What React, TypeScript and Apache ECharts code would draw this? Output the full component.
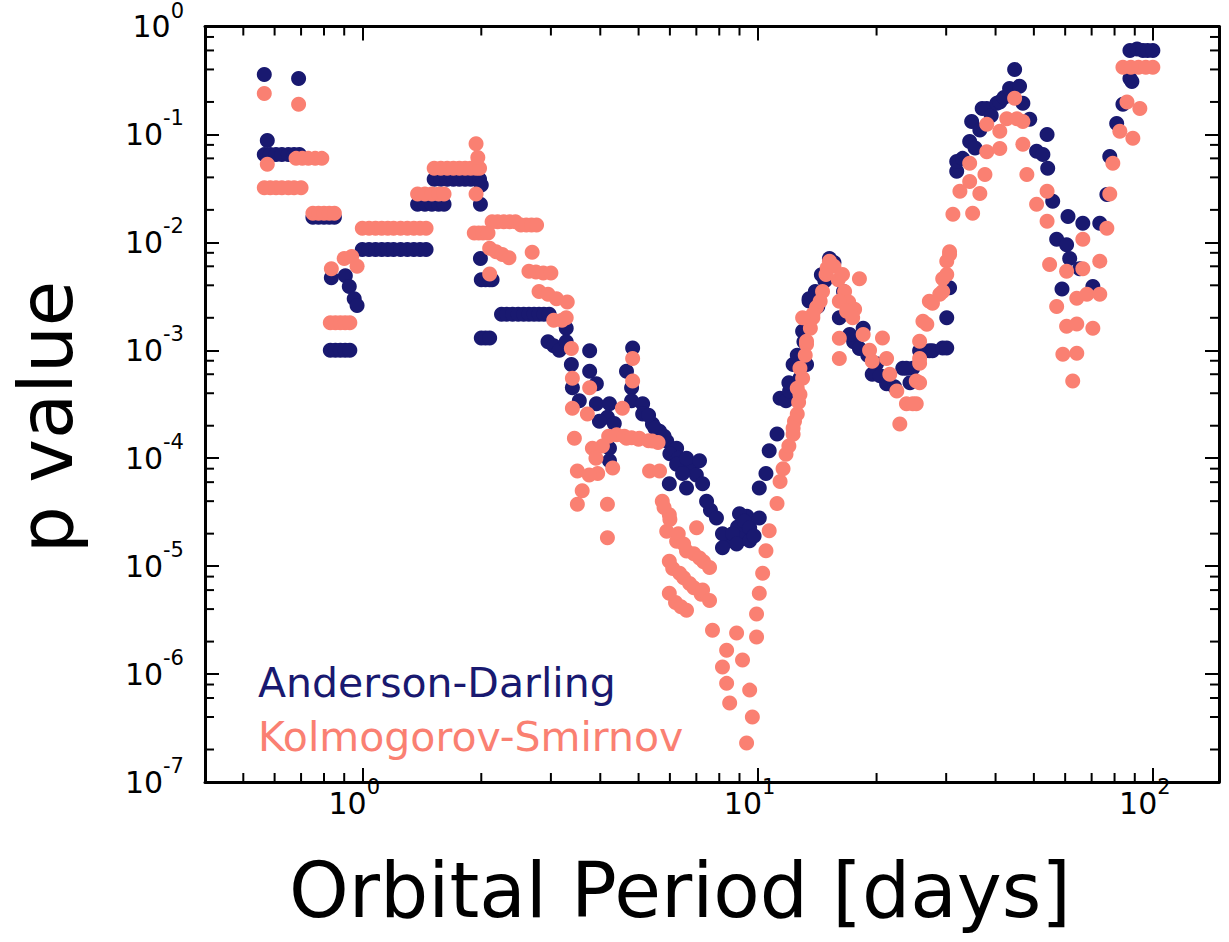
import { useEffect, useRef } from "react";
import * as echarts from "echarts";

const NAVY = "#191970";
const SALMON = "#fa8072";
const FONT = "DejaVu Sans";

// Axis extents: orbital period (days) and p value
const periodRange: [number, number] = [0.4, 147];
const pRange: [number, number] = [1e-7, 1];

// Minor tick mantissas per decade
const xMinorMantissas = [2, 3, 4, 5, 6, 7, 8, 9];
const xMinorDecades = [0.1, 1, 10];
const yMinorMantissas = [2, 4, 6, 8];
const yMinorDecades = [1e-7, 1e-6, 1e-5, 1e-4, 1e-3, 1e-2, 1e-1];

const seriesNames = ["Anderson-Darling", "Kolmogorov-Smirnov"];

// [orbital period in days, p value]
const andersonDarling: [number, number][] = [
  [0.565, 0.36], [0.69, 0.33], [0.575, 0.088],
  [0.565, 0.065], [0.585, 0.065], [0.605, 0.065], [0.626, 0.065], [0.65, 0.065], [0.672, 0.065], [0.693, 0.065],
  [0.75, 0.0171], [0.775, 0.0171], [0.8, 0.0171], [0.825, 0.0171], [0.85, 0.0171],
  [0.835, 0.0047], [0.906, 0.0049], [0.927, 0.0039], [0.954, 0.003], [0.97, 0.0026],
  [0.83, 0.001], [0.855, 0.001], [0.88, 0.001], [0.905, 0.001], [0.93, 0.001],
  [1.0, 0.0086], [1.04, 0.0086], [1.08, 0.0086], [1.12, 0.0086], [1.16, 0.0086], [1.2, 0.0086],
  [1.25, 0.0086], [1.3, 0.0086], [1.35, 0.0086], [1.4, 0.0086], [1.45, 0.0086],
  [1.38, 0.0225], [1.44, 0.0225], [1.5, 0.0225], [1.56, 0.0225], [1.61, 0.0225],
  [1.52, 0.0384], [1.58, 0.0384], [1.64, 0.0384], [1.7, 0.0384], [1.76, 0.0384], [1.82, 0.0384],
  [1.88, 0.0384], [1.94, 0.0384], [1.98, 0.0384],
  [2.0, 0.034], [1.99, 0.0225], [1.99, 0.0071],
  [2.0, 0.0045], [2.05, 0.0045], [2.1, 0.0045], [2.13, 0.0045],
  [2.0, 0.0013], [2.05, 0.0013], [2.1, 0.0013],
  [2.25, 0.00216], [2.32, 0.00216], [2.4, 0.00216], [2.48, 0.00216], [2.56, 0.00216],
  [2.64, 0.00216], [2.72, 0.00216], [2.8, 0.00216], [2.88, 0.00216], [2.97, 0.00216],
  [2.95, 0.0012], [3.05, 0.0011], [3.15, 0.001],
  [3.28, 0.0016], [3.28, 0.0012], [3.38, 0.00074], [3.4, 0.00045], [3.54, 0.00034],
  [3.76, 0.00099], [3.76, 0.00064], [3.91, 0.00049], [3.91, 0.00032], [4.22, 0.00032],
  [4.17, 0.00024], [4.34, 0.00021], [4.22, 0.000124], [4.22, 0.0000946], [3.98, 0.00022],
  [4.83, 0.00105], [4.66, 0.00064], [4.8, 0.00045], [4.8, 0.00034], [5.12, 0.00032],
  [5.12, 0.000257], [5.42, 0.000207], [5.65, 0.000178], [5.89, 0.000144], [6.24, 0.000124],
  [5.3, 0.00025], [5.5, 0.00019], [5.8, 0.00016], [6.0, 0.00011], [6.3, 0.0001],
  [6.5, 0.000085], [6.8, 0.00008], [7.0, 0.00007], [7.6, 0.000033], [8.4, 0.000017],
  [8.9, 0.000023], [9.2, 0.000018], [9.4, 0.000029],
  [6.24, 0.000088], [6.61, 0.0001], [7.13, 0.0000946], [6.46, 0.000072], [5.98, 0.000058],
  [6.61, 0.000053], [7.26, 0.000058], [7.43, 0.00004], [7.87, 0.000028], [8.15, 0.00002],
  [8.15, 0.0000148], [8.64, 0.00002], [8.85, 0.000016], [9.0, 0.0000306], [9.26, 0.000026],
  [9.55, 0.0000227], [9.55, 0.0000172], [9.8, 0.000019], [10.1, 0.000028], [10.1, 0.000053],
  [10.5, 0.000072], [10.7, 0.000117], [11.2, 0.000168], [11.4, 0.00036], [11.8, 0.00034],
  [12.05, 0.00042], [12.3, 0.00074], [12.8, 0.00055], [13.3, 0.00074], [13.0, 0.0015],
  [12.0, 0.0005], [12.6, 0.0009], [13.1, 0.0012], [14.0, 0.0035], [14.5, 0.005],
  [15.6, 0.0065], [16.5, 0.0035], [17.5, 0.0012], [19.0, 0.0009], [20.0, 0.00075],
  [13.5, 0.00286], [13.5, 0.003], [14.2, 0.00255], [14.8, 0.0044], [15.2, 0.0071],
  [16.1, 0.002], [17.1, 0.0014], [18.1, 0.00104], [18.5, 0.0016], [19.5, 0.0006],
  [20.4, 0.00058], [21.2, 0.00049], [22.2, 0.00046], [23.3, 0.00068], [24.3, 0.0005],
  [24.7, 0.00068], [23.8, 0.00068], [25.7, 0.00099], [27.2, 0.00099], [27.7, 0.00099],
  [29.4, 0.00105], [30.1, 0.00105], [30.1, 0.002], [30.6, 0.0038],
  [31.9, 0.0455], [31.9, 0.056], [33.0, 0.06], [34.4, 0.086], [35.5, 0.075], [34.8, 0.132],
  [36.5, 0.11], [37.0, 0.174], [38.0, 0.174], [39.0, 0.15], [40.3, 0.194], [41.0, 0.2],
  [42.0, 0.22], [43.4, 0.267], [46.0, 0.28], [44.7, 0.4], [46.9, 0.194], [48.8, 0.138],
  [54.0, 0.1], [50.8, 0.07], [52.7, 0.065], [54.2, 0.0485], [55.8, 0.024], [61.0, 0.0174],
  [66.5, 0.015], [57.1, 0.0107], [60.5, 0.0095], [61.6, 0.0071], [65.3, 0.0057],
  [70.5, 0.0039], [58.9, 0.0037], [73.4, 0.015], [76.5, 0.0278], [77.8, 0.0625],
  [81.0, 0.126], [84.0, 0.19], [87.5, 0.33], [88.5, 0.31],
  [87.5, 0.6], [91.2, 0.62], [94.4, 0.6], [97.0, 0.6], [100.0, 0.6],
];

const kolmogorovSmirnov: [number, number][] = [
  [0.565, 0.24], [0.69, 0.19], [0.575, 0.053],
  [0.565, 0.032], [0.585, 0.032], [0.605, 0.032], [0.626, 0.032], [0.65, 0.032], [0.672, 0.032], [0.7, 0.032],
  [0.68, 0.06], [0.705, 0.06], [0.73, 0.06], [0.76, 0.06], [0.79, 0.06],
  [0.75, 0.0186], [0.775, 0.0186], [0.8, 0.0186], [0.825, 0.0186], [0.85, 0.0186],
  [0.835, 0.0057], [0.9, 0.0071], [0.94, 0.0074], [0.97, 0.006],
  [0.83, 0.0018], [0.855, 0.0018], [0.88, 0.0018], [0.905, 0.0018], [0.93, 0.0018],
  [1.0, 0.0135], [1.04, 0.0135], [1.08, 0.0135], [1.12, 0.0135], [1.16, 0.0135], [1.2, 0.0135],
  [1.25, 0.0135], [1.3, 0.0135], [1.35, 0.0135], [1.4, 0.0135], [1.45, 0.0135],
  [1.38, 0.028], [1.44, 0.028], [1.5, 0.028], [1.56, 0.028], [1.61, 0.028],
  [1.52, 0.0486], [1.58, 0.0486], [1.64, 0.0486], [1.7, 0.0486], [1.76, 0.0486], [1.82, 0.0486],
  [1.88, 0.0486], [1.94, 0.0486], [1.98, 0.0486],
  [1.94, 0.082], [1.96, 0.061], [1.94, 0.028],
  [1.92, 0.0122], [1.97, 0.0122], [2.02, 0.0122], [2.08, 0.0122],
  [2.1, 0.0051],
  [2.13, 0.0155], [2.2, 0.0155], [2.28, 0.0155], [2.36, 0.0155], [2.44, 0.0155],
  [2.52, 0.0145], [2.6, 0.0145], [2.68, 0.0145], [2.76, 0.0145],
  [2.1, 0.0088], [2.18, 0.0082], [2.26, 0.0077], [2.35, 0.0072], [2.69, 0.0081],
  [2.64, 0.0054], [2.75, 0.0053], [2.87, 0.0052], [3.0, 0.0052],
  [2.8, 0.0035], [2.95, 0.0033], [3.1, 0.003], [3.3, 0.0028],
  [3.05, 0.0019], [3.2, 0.0019],
  [3.28, 0.002], [3.38, 0.00104], [3.4, 0.00055], [3.4, 0.00029], [3.44, 0.000153],
  [3.5, 0.000076], [3.5, 0.0000375], [3.76, 0.00045], [3.71, 0.000257], [3.82, 0.000124],
  [3.94, 0.000072], [4.17, 0.0000375], [4.17, 0.0000183], [4.3, 0.000081], [4.55, 0.00029],
  [4.83, 0.00084], [4.83, 0.00052], [4.66, 0.000153], [5.02, 0.000153], [5.42, 0.000144],
  [5.33, 0.000076], [5.65, 0.000076],
  [4.2, 0.00016], [4.4, 0.000165], [4.6, 0.00016], [4.8, 0.000155], [5.0, 0.00015],
  [5.3, 0.000145], [5.6, 0.00014],
  [3.6, 0.00005], [3.75, 0.00007], [3.9, 0.0001], [4.05, 0.00013],
  [5.74, 0.00004], [5.98, 0.00003], [5.89, 0.000021], [6.24, 0.000017], [6.61, 0.0000138],
  [5.8, 0.000035], [6.0, 0.000027], [6.3, 0.00002], [6.5, 0.000016], [6.9, 0.000013],
  [7.3, 0.000011], [6.1, 0.0000095], [6.5, 0.0000078], [6.9, 0.0000063], [7.2, 0.0000055],
  [6.2, 0.0000046], [6.4, 0.0000042],
  [7.13, 0.0000119], [7.56, 0.0000097], [5.98, 0.0000111], [6.35, 0.0000086], [6.73, 0.0000069],
  [5.98, 0.0000056], [6.61, 0.0000039], [7.26, 0.000006], [7.56, 0.0000048], [7.01, 0.0000227],
  [7.69, 0.00000255], [8.35, 0.00000166], [8.15, 0.00000116], [8.35, 8.2e-7], [8.5, 5.4e-7],
  [8.85, 0.0000024], [9.16, 0.00000135], [9.55, 7.1e-7], [9.7, 4e-7], [9.38, 2.3e-7],
  [9.94, 0.0000022], [9.94, 0.0000036], [10.1, 0.0000056], [10.3, 0.0000086], [10.5, 0.0000139],
  [10.7, 0.0000213], [11.2, 0.000038], [11.4, 0.000061], [11.8, 0.000109], [12.3, 0.000167],
  [12.6, 0.000257], [12.8, 0.00039], [12.8, 0.00068], [13.3, 0.00114], [13.8, 0.002],
  [11.6, 0.00008], [12.0, 0.00013], [12.4, 0.00022], [12.7, 0.00033], [13.0, 0.00055],
  [13.2, 0.0009], [13.6, 0.0016], [14.1, 0.0025], [14.6, 0.0035], [15.0, 0.0058],
  [15.6, 0.006], [16.0, 0.0045], [16.6, 0.0035], [17.0, 0.0028], [17.6, 0.0024],
  [12.3, 0.00019], [12.6, 0.000445], [13.3, 0.00121], [13.8, 0.00216], [14.4, 0.00284],
  [14.9, 0.00505], [15.2, 0.0067], [16.4, 0.00505], [18.1, 0.0046], [16.1, 0.00284],
  [16.8, 0.0023], [17.4, 0.002], [16.1, 0.00129], [16.1, 0.00084], [18.5, 0.0014],
  [19.2, 0.001], [20.7, 0.0013], [21.2, 0.00084], [21.6, 0.0006], [22.5, 0.00042],
  [23.8, 0.00032], [25.2, 0.00032], [22.9, 0.000207], [25.2, 0.00052], [25.7, 0.00084],
  [25.7, 0.00121], [26.2, 0.00186], [27.2, 0.00284], [28.9, 0.0033], [29.4, 0.0046],
  [30.1, 0.0067], [30.6, 0.0082], [13.0, 0.002], [19.5, 0.00079],
  [24.7, 0.00032], [25.7, 0.0005], [25.7, 0.00076], [26.8, 0.00174], [27.7, 0.00273],
  [29.4, 0.0035], [30.1, 0.00505], [30.6, 0.0077], [31.2, 0.0182], [32.5, 0.0297],
  [34.4, 0.0367], [36.5, 0.0284], [35.0, 0.0186], [34.4, 0.054], [37.6, 0.0425],
  [38.0, 0.069], [38.0, 0.124], [41.0, 0.107], [41.0, 0.074], [42.7, 0.14],
  [44.7, 0.216], [45.3, 0.14], [46.9, 0.132], [46.9, 0.081], [48.0, 0.0425],
  [54.0, 0.0297], [50.8, 0.0225], [54.0, 0.0157], [54.8, 0.00625], [60.5, 0.0054],
  [66.5, 0.0057], [64.2, 0.00303], [68.1, 0.0033], [73.4, 0.0033], [57.1, 0.00255],
  [60.5, 0.00167], [64.2, 0.00175], [70.5, 0.0016], [59.2, 0.00092], [64.2, 0.00094],
  [62.7, 0.00052], [73.4, 0.0067], [76.5, 0.0135], [66.5, 0.0107], [77.8, 0.028],
  [79.2, 0.054], [82.5, 0.107], [89.0, 0.092], [86.0, 0.2], [92.7, 0.174],
  [84.0, 0.42], [88.0, 0.42], [92.0, 0.42], [96.0, 0.42], [100.0, 0.42],
];

function powerLabel(value: number): string {
  const e = Math.log10(value);
  const r = Math.round(e);
  if (Math.abs(e - r) > 1e-6) return "";
  return `{b|10}{s|${r}}`;
}

function minorValues(mantissas: number[], decades: number[], lo: number, hi: number): number[] {
  const out: number[] = [];
  decades.forEach((d) => mantissas.forEach((m) => {
    const v = m * d;
    if (v > lo * 1.0001 && v < hi * 0.9999) out.push(v);
  }));
  return out;
}

export default function App() {
  const ref = useRef<HTMLDivElement>(null);

  useEffect(() => {
    if (!ref.current) return;
    const chart = echarts.init(ref.current, undefined, { renderer: "svg" });

    const xMinor = minorValues(xMinorMantissas, xMinorDecades, periodRange[0], periodRange[1]);
    const yMinor = minorValues(yMinorMantissas, yMinorDecades, pRange[0], pRange[1]);

    const axisLine = { show: true, onZero: false, lineStyle: { color: "#000", width: 3 } };
    const majorTick = { show: true, inside: true, length: 14, lineStyle: { color: "#000", width: 2 } };

    const tickSeries = (data: number[][], size: number[], offset: number[]) => ({
      type: "scatter",
      data,
      symbol: "rect",
      symbolSize: size,
      symbolOffset: offset,
      itemStyle: { color: "#000", opacity: 1 },
      silent: true,
      clip: false,
      z: 4,
      emphasis: { disabled: true },
    });

    chart.setOption({
      animation: false,
      backgroundColor: "#fff",
      grid: { left: 205, top: 25, right: 10, bottom: 160, containLabel: false },
      legend: {
        orient: "vertical",
        left: 248,
        top: 656,
        icon: "none",
        itemWidth: 0,
        itemHeight: 0,
        itemGap: 10,
        selectedMode: false,
        textStyle: { fontSize: 41, fontFamily: FONT, lineHeight: 44 },
        data: [
          { name: seriesNames[0], textStyle: { color: NAVY } },
          { name: seriesNames[1], textStyle: { color: SALMON } },
        ],
      },
      xAxis: [
        {
          type: "log",
          logBase: 10,
          min: periodRange[0],
          max: periodRange[1],
          position: "bottom",
          axisLine,
          axisTick: majorTick,
          minorTick: { show: false },
          splitLine: { show: false },
          axisLabel: {
            show: true,
            margin: 6,
            showMinLabel: false,
            showMaxLabel: false,
            formatter: powerLabel,
            rich: {
              b: { fontSize: 30, lineHeight: 30, fontFamily: FONT, color: "#000" },
              s: { fontSize: 21, lineHeight: 21, fontFamily: FONT, color: "#000", padding: [0, 16, 32, 0] },
            },
          },
        },
        {
          type: "log",
          logBase: 10,
          min: periodRange[0],
          max: periodRange[1],
          position: "top",
          axisLine,
          axisTick: majorTick,
          minorTick: { show: false },
          splitLine: { show: false },
          axisLabel: { show: false },
        },
      ],
      yAxis: [
        {
          type: "log",
          logBase: 10,
          min: pRange[0],
          max: pRange[1],
          position: "left",
          axisLine,
          axisTick: majorTick,
          minorTick: { show: false },
          splitLine: { show: false },
          axisLabel: {
            show: true,
            margin: 21,
            formatter: powerLabel,
            rich: {
              b: { fontSize: 30, lineHeight: 30, fontFamily: FONT, color: "#000" },
              s: { fontSize: 21, lineHeight: 21, fontFamily: FONT, color: "#000", padding: [0, 0, 32, 0] },
            },
          },
        },
        {
          type: "log",
          logBase: 10,
          min: pRange[0],
          max: pRange[1],
          position: "right",
          axisLine,
          axisTick: majorTick,
          minorTick: { show: false },
          splitLine: { show: false },
          axisLabel: { show: false },
        },
      ],
      graphic: [
        {
          type: "text",
          x: 680,
          y: 890,
          style: {
            text: "Orbital Period [days]",
            fontSize: 76,
            fontFamily: FONT,
            fill: "#000",
            textAlign: "center",
            textVerticalAlign: "middle",
            verticalAlign: "middle",
          },
        },
        {
          type: "text",
          x: 46,
          y: 417,
          rotation: Math.PI / 2,
          style: {
            text: "p value",
            fontSize: 74,
            fontFamily: FONT,
            fill: "#000",
            textAlign: "center",
            textVerticalAlign: "middle",
            verticalAlign: "middle",
          },
        },
      ],
      series: [
        {
          name: seriesNames[0],
          type: "scatter",
          data: andersonDarling,
          symbol: "circle",
          symbolSize: 15,
          itemStyle: { color: NAVY, opacity: 1 },
          emphasis: { disabled: true },
          z: 2,
        },
        {
          name: seriesNames[1],
          type: "scatter",
          data: kolmogorovSmirnov,
          symbol: "circle",
          symbolSize: 15,
          itemStyle: { color: SALMON, opacity: 1 },
          emphasis: { disabled: true },
          z: 3,
        },
        tickSeries(xMinor.map((v) => [v, pRange[0]]), [2, 9], [0, -4.5]),
        tickSeries(xMinor.map((v) => [v, pRange[1]]), [2, 9], [0, 4.5]),
        tickSeries(yMinor.map((v) => [periodRange[0], v]), [9, 2], [4.5, 0]),
        tickSeries(yMinor.map((v) => [periodRange[1], v]), [9, 2], [-4.5, 0]),
      ],
    });

    return () => chart.dispose();
  }, []);

  return (
    <div
      ref={ref}
      style={{ position: "fixed", left: 0, top: 0, width: 1229, height: 942, background: "#fff" }}
    />
  );
}
